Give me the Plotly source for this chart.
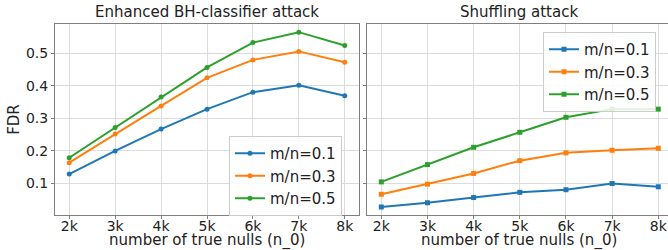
import plotly.graph_objects as go

x_vals = [2, 3, 4, 5, 6, 7, 8]
x_labels = ["2k", "3k", "4k", "5k", "6k", "7k", "8k"]
series_names = ["m/n=0.1", "m/n=0.3", "m/n=0.5"]
colors = ["#1f77b4", "#ff7f0e", "#2ca02c"]

bh_01 = [0.129, 0.200, 0.267, 0.328, 0.380, 0.401, 0.369]
bh_03 = [0.164, 0.252, 0.338, 0.424, 0.479, 0.505, 0.472]
bh_05 = [0.179, 0.272, 0.365, 0.456, 0.532, 0.564, 0.523]

sh_01 = [0.028, 0.041, 0.057, 0.073, 0.081, 0.100, 0.090]
sh_03 = [0.067, 0.098, 0.131, 0.170, 0.194, 0.202, 0.208]
sh_05 = [0.105, 0.158, 0.211, 0.257, 0.303, 0.328, 0.328]

y_ticks = [0.1, 0.2, 0.3, 0.4, 0.5]

FONT = "DejaVu Sans"
fig = go.Figure()

for name, col, ys in zip(series_names, colors, [bh_01, bh_03, bh_05]):
    fig.add_trace(go.Scatter(x=x_vals, y=ys, name=name, mode="lines+markers",
                             line=dict(color=col, width=2), marker=dict(size=5, color=col),
                             xaxis="x", yaxis="y", legend="legend", cliponaxis=False))
for name, col, ys in zip(series_names, colors, [sh_01, sh_03, sh_05]):
    fig.add_trace(go.Scatter(x=x_vals, y=ys, name=name, mode="lines+markers",
                             line=dict(color=col, width=2), marker=dict(size=5, symbol="square", color=col),
                             xaxis="x2", yaxis="y2", legend="legend2", cliponaxis=False))

L, R, T, B = 55, 0, 24, 35
W, H = 668, 250
pw = W - L - R
ph = H - T - B

def px_x(p):
    return (p - L) / pw

def px_y(p):
    return 1 - (p - T) / ph

axis_common = dict(showline=True, linecolor="#808080", linewidth=1, mirror=True,
                   showgrid=True, gridcolor="#dcdcdc", gridwidth=1,
                   ticks="outside", ticklen=3, tickcolor="#808080", zeroline=False,
                   automargin=False,
                   tickfont=dict(family=FONT, size=14, color="#222"))

fig.update_layout(
    width=W, height=H,
    margin=dict(l=L, r=R, t=T, b=B, autoexpand=False),
    plot_bgcolor="white", paper_bgcolor="white",
    font=dict(family=FONT, size=14, color="#222"),
    xaxis=dict(domain=[0, px_x(359)], range=[1.69, 8.31], tickvals=x_vals, ticktext=x_labels,
               anchor="y", ticklabelstandoff=-5, **axis_common),
    xaxis2=dict(domain=[px_x(367), 1], range=[1.69, 8.21], tickvals=x_vals, ticktext=x_labels,
                anchor="y2", ticklabelstandoff=-5, **axis_common),
    yaxis=dict(range=[0.0035, 0.589], tickvals=y_ticks, tickformat=".1f", anchor="x",
               title=dict(text="FDR", font=dict(family=FONT, size=15, color="#222"), standoff=2),
               **axis_common),
    yaxis2=dict(range=[0.0035, 0.589], tickvals=y_ticks, showticklabels=False, anchor="x2",
                matches="y", **axis_common),
    legend=dict(x=px_x(229), y=px_y(136), xanchor="left", yanchor="top",
                bgcolor="rgba(255,255,255,0.85)", bordercolor="#cccccc", borderwidth=1,
                font=dict(family=FONT, size=15, color="#222")),
    legend2=dict(x=px_x(543), y=px_y(32), xanchor="left", yanchor="top",
                 bgcolor="rgba(255,255,255,0.85)", bordercolor="#cccccc", borderwidth=1,
                 font=dict(family=FONT, size=15, color="#222")),
    showlegend=True,
    annotations=[
        dict(text="Enhanced BH-classifier attack", x=px_x(207), y=1, xref="paper", yref="paper",
             xanchor="center", yanchor="bottom", yshift=1, showarrow=False,
             font=dict(family=FONT, size=15, color="#222")),
        dict(text="Shuffling attack", x=px_x(519), y=1, xref="paper", yref="paper",
             xanchor="center", yanchor="bottom", yshift=1, showarrow=False,
             font=dict(family=FONT, size=15, color="#222")),
        dict(text="number of true nulls (n_0)", x=px_x(207), y=0, xref="paper", yref="paper",
             xanchor="center", yanchor="middle", yshift=-25, showarrow=False,
             font=dict(family=FONT, size=15, color="#222")),
        dict(text="number of true nulls (n_0)", x=px_x(519), y=0, xref="paper", yref="paper",
             xanchor="center", yanchor="middle", yshift=-25, showarrow=False,
             font=dict(family=FONT, size=15, color="#222")),
    ],
)

fig.write_html("out.html", config={"displayModeBar": False},
               post_script="document.body.style.margin='0';document.body.style.overflow='hidden';")
